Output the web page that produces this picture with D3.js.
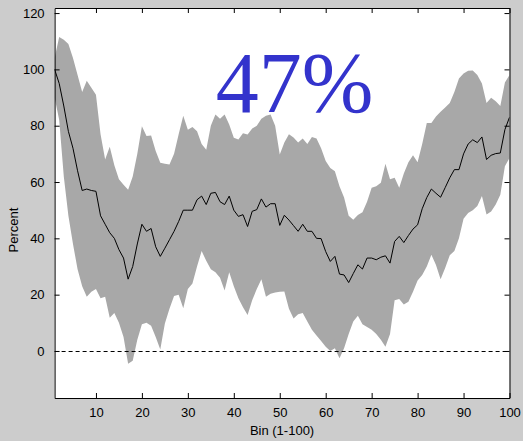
<!DOCTYPE html>
<html>
<head>
<meta charset="utf-8">
<script src="https://cdn.jsdelivr.net/npm/d3@7"></script>
<style>
  html, body { margin: 0; padding: 0; background: #cccccc; }
  svg { display: block; }
</style>
</head>
<body>
<svg id="chart" width="523" height="441"></svg>
<script>
// ---- data ----
const bins = d3.range(1, 101);
const meanValues = [100,95,87,78,72,64,57,57.5,57,56.7,48,45,42,40,36,33,25.5,30,38,45,
  42.5,43.5,37,33.6,36.5,39.5,42.5,46,50,50,50,53.7,55,52,56,56.3,53,52,55,50,
  47.8,48.4,44.2,49.6,50.2,54,51.1,52.3,52.3,44.6,48.2,46.5,44.5,42.5,45,42.5,42.5,40,39.9,35.3,
  31.8,33.6,27.3,27,24.3,27.5,30.6,29.1,33,33,32.4,33.3,33.8,31.2,38.9,40.7,38.5,41,43.3,44.8,
  50.5,54.5,57.5,56,54.6,58,61.5,64.4,64.4,70,73.5,75,74,76,68,69.5,70.1,70.3,78.6,83];
const upperValues = [104,111.5,110.5,109,104,98,92,96,93.5,91,77,68,72.5,66,61,59,57.3,62,70,79.8,
  76.3,76.5,71,66.8,66.5,66.2,70,77,83.5,78.6,79.5,78,73.5,71.5,80,84,82.5,84,80.4,75.7,
  75.1,77.3,76.9,79,80,82.5,83.5,84,80,69.8,74,77,75.8,74,75.5,73.5,76,75.5,72,67.5,
  65,63.8,58.5,54.5,48,46.6,48.3,49.3,53,58,58.5,59.7,66.5,61,61.5,58,63,67,69.5,67,
  73.5,81,81,83.3,85,86.5,88.1,92,96.8,98.5,99.5,99.6,98,95,88.1,89.9,88.7,87,95.3,98];
const lowerValues = [90,82,62,48,38,29,23,19.3,21,22,18.7,19.3,11.8,13.5,10,5,-4.5,-3.5,4,9.5,
  10,9,5,0.5,9.8,15,19.5,20,15.2,22,24,30,35.5,32,29,28,26,21.5,28,23,
  18.7,15.5,12.8,18,22,25.5,19.3,20.3,20.8,21,21.1,15,11.5,13,13.5,10.5,7.5,5.5,3.5,1.5,
  0,1,-2.6,1,6,10.5,12.5,9.5,8.5,7.5,6,4,1.5,6,18,18.5,16.5,17.5,21,25,
  27,30,34.2,30.5,25.5,29.5,34,35.5,40,47,49,50,51.5,55,48.5,49.5,52,55.5,65.6,68.5];
const xTicks = [10,20,30,40,50,60,70,80,90,100];
const yTicks = [0,20,40,60,80,100,120];
const xLabel = "Bin (1-100)";
const yLabel = "Percent";
const bigLabel = "47%";

// ---- drawing ----
(function () {
const svg = d3.select("#chart");
const W = 523, H = 441;
const mL = 54.6, mR = 509.5, mT = 8, mB = 398;

svg.append("rect").attr("width", W).attr("height", H).attr("fill", "#cccccc");

const x = d3.scaleLinear().domain([1, 100]).range([mL, mR]);
const y = d3.scaleLinear().domain([-16.7, 121.8]).range([mB, mT]);

svg.append("rect").attr("x", mL).attr("y", mT)
  .attr("width", mR - mL).attr("height", mB - mT).attr("fill", "#ffffff");

const rows = bins.map((b, i) => ({ b, m: meanValues[i], u: upperValues[i], l: lowerValues[i] }));

svg.append("clipPath").attr("id", "clip")
  .append("rect").attr("x", mL).attr("y", mT).attr("width", mR - mL).attr("height", mB - mT);

const g = svg.append("g").attr("clip-path", "url(#clip)");

g.append("path").datum(rows)
  .attr("d", d3.area().x(d => x(d.b)).y0(d => y(d.l)).y1(d => y(d.u)))
  .attr("fill", "#a8a8a8");

g.append("line")
  .attr("x1", mL).attr("x2", mR).attr("y1", Math.round(y(0)) + 0.5).attr("y2", Math.round(y(0)) + 0.5)
  .attr("stroke", "#000").attr("stroke-width", 1).attr("stroke-dasharray", "4,3");

g.append("path").datum(rows)
  .attr("d", d3.line().x(d => x(d.b)).y(d => y(d.m)))
  .attr("fill", "none").attr("stroke", "#000").attr("stroke-width", 1);

const fontFam = "'Liberation Sans', Arial, sans-serif";
const axB = svg.append("g").attr("transform", `translate(0,${mB})`)
  .call(d3.axisBottom(x).tickValues(xTicks).tickSizeInner(-5).tickSizeOuter(0).tickPadding(10));
const axT = svg.append("g").attr("transform", `translate(0,${mT})`)
  .call(d3.axisTop(x).tickValues(xTicks).tickSizeInner(-5).tickSizeOuter(0).tickFormat(""));
const axL = svg.append("g").attr("transform", `translate(${mL},0)`)
  .call(d3.axisLeft(y).tickValues(yTicks).tickSizeInner(-5).tickSizeOuter(0).tickPadding(10));
const axR = svg.append("g").attr("transform", `translate(${mR},0)`)
  .call(d3.axisRight(y).tickValues(yTicks).tickSizeInner(-5).tickSizeOuter(0).tickFormat(""));

[axB, axT, axL, axR].forEach(a => {
  a.selectAll("path").attr("stroke", "#000");
  a.selectAll("line").attr("stroke", "#000");
  a.selectAll("text").attr("fill", "#000").style("font-family", fontFam).style("font-size", "13px");
});

svg.append("text").attr("x", (mL + mR) / 2).attr("y", 435)
  .attr("text-anchor", "middle").style("font-family", fontFam).style("font-size", "13px")
  .attr("fill", "#000").text(xLabel);
svg.append("text").attr("transform", `translate(18,${(mT + mB) / 2 + 27}) rotate(-90)`)
  .attr("text-anchor", "middle").style("font-family", fontFam).style("font-size", "13px")
  .attr("fill", "#000").text(yLabel);

svg.append("text").attr("x", 294.5).attr("y", 112)
  .attr("text-anchor", "middle")
  .style("font-family", "'Liberation Serif', 'Times New Roman', serif")
  .style("font-size", "86px").attr("fill", "#3333cc").text(bigLabel);
})();
</script>
</body>
</html>
